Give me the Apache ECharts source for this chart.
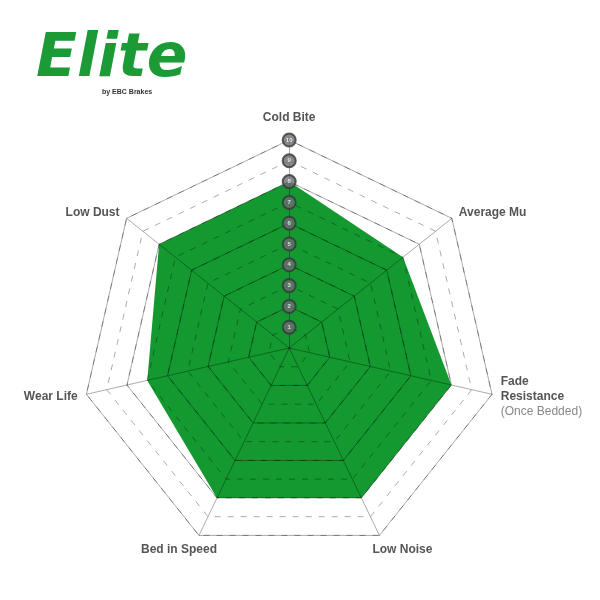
<!DOCTYPE html>
<html><head><meta charset="utf-8">
<script src="https://cdn.jsdelivr.net/npm/echarts@6/dist/echarts.min.js"></script>
<style>html,body{margin:0;padding:0;background:#fff}#c{width:600px;height:600px}</style>
</head><body><div id="c"></div>
<script>
// Listed in ECharts' radar order (counter-clockwise from the top)
var categories = ['Cold Bite', 'Low Dust', 'Wear Life', 'Bed in Speed', 'Low Noise', 'Fade\nResistance\n{l|(Once Bedded)}', 'Average Mu'];
var values = [8, 8, 7, 8, 8, 8, 7];
var maxValue = 10;
var scaleTicks = [1, 2, 3, 4, 5, 6, 7, 8, 9, 10];

var center = ['48.2%', '58%'];
var radius = 208;
var font = '"Liberation Sans Narrow", "Liberation Sans", Arial, sans-serif';
// labels drawn centred (top and bottom ones), with spacer tokens to nudge them
var centredNames = { 'Cold Bite': 'Cold Bite', 'Bed in Speed': 'Bed in Speed{s|}', 'Low Noise': '{t|}Low Noise' };

var chart = echarts.init(document.getElementById('c'));
chart.setOption({
  backgroundColor: '#fff',
  graphic: [
    { type: 'text', left: 36, top: 30, style: { text: 'Elite', font: 'italic 900 60px "DejaVu Sans", sans-serif', fill: '#1c9a36' } },
    { type: 'text', left: 102, top: 89, style: { text: 'by EBC Brakes', font: 'bold 7px "Liberation Sans", Arial, sans-serif', fill: '#333' } }
  ],
  radar: [{
    center: center, radius: radius, startAngle: 90, shape: 'polygon',
    splitNumber: 10, z: 3,
    indicator: categories.map(function (n) { return { name: centredNames[n] ? '' : n, max: maxValue, min: 0 }; }),
    axisName: {
      color: '#555', fontFamily: font, fontSize: 12, fontWeight: 'bold', lineHeight: 15,
      rich: { l: { color: '#888', fontFamily: font, fontSize: 12, fontWeight: 'normal', lineHeight: 15 } }
    },
    nameGap: 9,
    splitArea: { show: false },
    splitLine: { lineStyle: { color: 'rgba(0,0,0,0.33)', type: [6, 7], width: 1 } },
    axisLine: { lineStyle: { color: 'rgba(0,0,0,0.33)', width: 1 } }
  }, {
    center: center, radius: radius, startAngle: 90, shape: 'polygon',
    splitNumber: 5, z: 3,
    indicator: categories.map(function (n) { return { name: centredNames[n] || '', max: maxValue, min: 0 }; }),
    axisName: {
      color: '#555', fontFamily: font, fontSize: 12, fontWeight: 'bold', align: 'center',
      rich: { s: { width: 26 }, t: { width: 32 } }
    },
    nameGap: 16,
    splitArea: { show: false },
    splitLine: { lineStyle: { color: 'rgba(0,0,0,0.33)', width: 1 } },
    axisLine: { show: false }
  }],
  polar: { center: center, radius: radius },
  angleAxis: { type: 'value', min: 0, max: 360, startAngle: 90, show: false },
  radiusAxis: { type: 'value', min: 0, max: maxValue, show: false },
  series: [{
    type: 'radar', radarIndex: 0, z: 1, symbol: 'none',
    lineStyle: { width: 0, color: '#13992f' },
    areaStyle: { color: '#13992f', opacity: 1 },
    data: [{ value: values }]
  }, {
    type: 'scatter', coordinateSystem: 'polar', z: 5,
    symbol: 'circle', symbolSize: 13,
    itemStyle: { color: '#6a6a70', borderColor: '#36363a', borderWidth: 2 },
    label: { show: true, position: 'inside', color: '#fff', fontSize: 6, fontWeight: 'bold', fontFamily: font,
      formatter: function (p) { return p.value[0]; } },
    data: scaleTicks.map(function (t) { return [t, 0]; })
  }]
});
</script></body></html>
